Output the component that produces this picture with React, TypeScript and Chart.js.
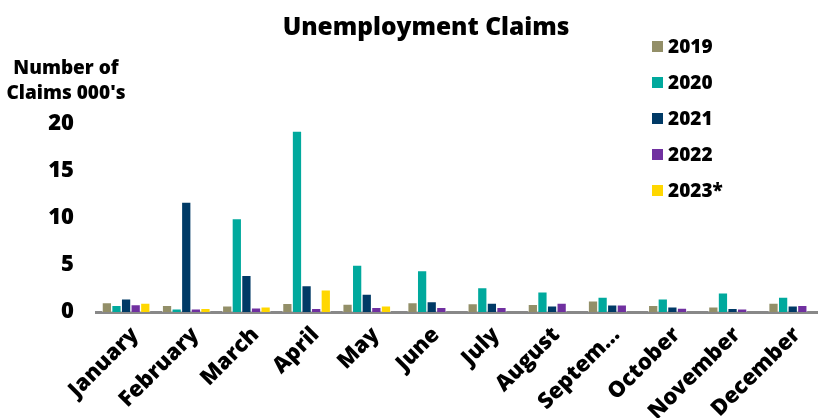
import React, { useEffect, useRef } from "react";
import { Chart, registerables } from "chart.js";

Chart.register(...registerables);

const months = ["January", "February", "March", "April", "May", "June", "July", "August", "September", "October", "November", "December"];
const yTicks = [0, 5, 10, 15, 20];
const series2019 = [1.0, 0.7, 0.65, 0.93, 0.85, 1.0, 0.9, 0.82, 1.18, 0.7, 0.55, 0.95];
const series2020 = [0.7, 0.35, 9.95, 19.25, 5.0, 4.4, 2.6, 2.15, 1.6, 1.4, 2.05, 1.6];
const series2021 = [1.4, 11.7, 3.9, 2.8, 1.9, 1.1, 0.95, 0.65, 0.75, 0.55, 0.4, 0.65];
const series2022 = [0.8, 0.35, 0.45, 0.4, 0.5, 0.5, 0.5, 0.95, 0.75, 0.42, 0.33, 0.7];
const series2023 = [0.95, 0.4, 0.55, 2.35, 0.65, null, null, null, null, null, null, null];
const seriesNames = ["2019", "2020", "2021", "2022", "2023*"];
const seriesColors = ["#938F68", "#00A99D", "#003A66", "#7030A0", "#FFD700"];

const FONT = "'Open Sans', 'DejaVu Sans', sans-serif";

export default function App() {
  const ref = useRef<HTMLCanvasElement | null>(null);

  useEffect(() => {
    document.body.style.margin = "0";
    const allSeries = [series2019, series2020, series2021, series2022, series2023];
    const chart = new Chart(ref.current as HTMLCanvasElement, {
      type: "bar",
      data: {
        labels: months,
        datasets: allSeries.map((d, i) => ({
          label: seriesNames[i],
          data: d,
          backgroundColor: seriesColors[i],
          borderColor: "rgba(255,255,255,0.55)",
          borderWidth: 1,
          barThickness: 9.6,
        })),
      },
      options: {
        responsive: false,
        animation: false,
        skipNull: true,
        layout: { padding: { top: 124, right: 0, left: 0, bottom: 0 } },
        plugins: { legend: { display: false }, title: { display: false }, tooltip: { enabled: false } },
        scales: {
          x: {
            grid: { display: false, drawTicks: false },
            border: { display: true, color: "#888888", width: 3 },
            ticks: {
              color: "#000",
              font: { family: FONT, size: 22, weight: "800" },
              maxRotation: 45,
              minRotation: 45,
              autoSkip: false,
              padding: 10,
              labelOffset: 9,
              callback: function (value: any, index: number) {
                const s = months[index];
                return s.length > 8 ? s.slice(0, 6) + "…" : s;
              },
            },
            afterFit: (scale: any) => {
              scale.height = 106;
            },
          },
          y: {
            min: 0,
            max: 20,
            grid: { display: false, drawTicks: false },
            border: { display: false },
            afterBuildTicks: (scale: any) => {
              scale.ticks = yTicks.map((v) => ({ value: v }));
            },
            ticks: {
              color: "#000",
              font: { family: FONT, size: 22, weight: "800" },
              padding: 22,
            },
            afterFit: (scale: any) => {
              scale.width = 96;
            },
          },
        },
      } as any,
    });
    return () => chart.destroy();
  }, []);

  return (
    <div style={{ position: "relative", width: 818, height: 418, fontFamily: FONT, color: "#000" }}>
      <canvas ref={ref} width={818} height={418} style={{ display: "block" }} />
      <div
        style={{
          position: "absolute",
          left: 426,
          top: 9,
          transform: "translateX(-50%)",
          fontSize: 24.5,
          fontWeight: 800,
          whiteSpace: "nowrap",
        }}
      >
        Unemployment Claims
      </div>
      <div
        style={{
          position: "absolute",
          left: 0,
          width: 132,
          top: 55,
          textAlign: "center",
          fontSize: 19,
          fontWeight: 800,
          lineHeight: "25px",
        }}
      >
        Number of
        <br />
        Claims 000's
      </div>
      <div style={{ position: "absolute", left: 652, top: 28 }}>
        {seriesNames.map((n, i) => (
          <div key={n} style={{ display: "flex", alignItems: "center", height: 36 }}>
            <span style={{ width: 11, height: 11, background: seriesColors[i], display: "inline-block", marginRight: 5 }} />
            <span style={{ fontSize: 19, fontWeight: 800, lineHeight: "24px" }}>{n}</span>
          </div>
        ))}
      </div>
    </div>
  );
}
